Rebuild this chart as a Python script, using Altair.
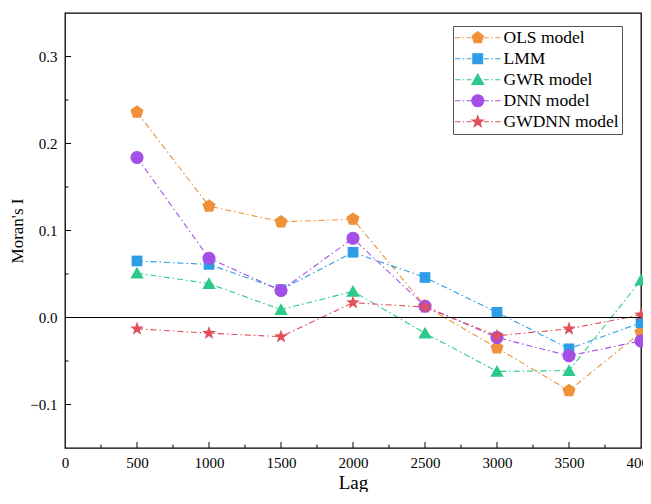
import altair as alt
import pandas as pd

# ---------------- data ----------------
lags = [500, 1000, 1500, 2000, 2500, 3000, 3500, 4000]
models = ["OLS model", "LMM", "GWR model", "DNN model", "GWDNN model"]
ols = [0.236, 0.128, 0.110, 0.113, 0.013, -0.035, -0.084, -0.017]
lmm = [0.065, 0.061, 0.032, 0.075, 0.046, 0.006, -0.036, -0.006]
gwr = [0.051, 0.039, 0.009, 0.030, -0.018, -0.062, -0.061, 0.043]
dnn = [0.184, 0.068, 0.031, 0.091, 0.013, -0.023, -0.044, -0.027]
gwdnn = [-0.013, -0.018, -0.022, 0.017, 0.012, -0.021, -0.013, 0.003]
series = [ols, lmm, gwr, dnn, gwdnn]

x_ticks = [0, 500, 1000, 1500, 2000, 2500, 3000, 3500, 4000]
x_major = [500, 1000, 1500, 2000, 2500, 3000, 3500]
x_minor = [250, 750, 1250, 1750, 2250, 2750, 3250, 3750]
y_ticks = [-0.1, 0.0, 0.1, 0.2, 0.3]
y_minor = [-0.05, 0.05, 0.15, 0.25]

# ---------------- styles ----------------
colors = ["#F0913A", "#2E9DE8", "#2CC98B", "#A44FE8", "#E0505A"]
pentagon = "M0,-1L0.951,-0.309L0.588,0.809L-0.588,0.809L-0.951,-0.309Z"
square = "M-0.82,-0.82H0.82V0.82H-0.82Z"
triangle = "M0,-0.95L1,0.8L-1,0.8Z"
circle = "M1,0A1,1,0,1,1,-1,0A1,1,0,1,1,1,0Z"
star = ("M0,-1L0.235,-0.324L0.951,-0.309L0.380,0.124L0.588,0.809L0,0.4"
        "L-0.588,0.809L-0.380,0.124L-0.951,-0.309L-0.235,-0.324Z")
shapes = [pentagon, square, triangle, circle, star]
sizes = [190, 170, 180, 170, 210]
dash_seg = ("M-3.8,0H-2.9M-2.5,0H-2.25M-1.85,0H-1.05"
            "M1.05,0H1.85M2.25,0H2.5M2.9,0H3.8")
legend_shapes = [dash_seg + s for s in shapes]

FONT = "Liberation Serif"
W, H = 576, 435

xs = alt.Scale(domain=[0, 4000], nice=False, zero=False)
ys = alt.Scale(domain=[-0.15, 0.35], nice=False, zero=False)

x_axis = alt.Axis(values=x_ticks, format="d", title="Lag", grid=False, domain=False, ticks=False,
                  labelFont=FONT, labelFontSize=15, labelColor="black", labelPadding=7,
                  labelFlush=False, labelOverlap=False,
                  titleFont=FONT, titleFontSize=19, titleFontWeight="normal",
                  titleColor="black", titlePadding=3)
y_axis = alt.Axis(values=y_ticks, format=".1f", title="Moran's I", grid=False,
                  domain=False, ticks=False,
                  labelFont=FONT, labelFontSize=15, labelColor="black", labelPadding=8,
                  labelFlush=False,
                  titleFont=FONT, titleFontSize=17, titleFontWeight="normal",
                  titleColor="black", titlePadding=3)


def X(field):
    return alt.X(field, scale=xs, axis=x_axis)


def Y(field):
    return alt.Y(field, scale=ys, axis=y_axis)


layers = []

# data series
for name, vals, col, shp, sz in zip(models, series, colors, shapes, sizes):
    df = pd.DataFrame({"lag": lags, "value": vals, "model": name})
    base = alt.Chart(df)
    layers.append(base.mark_line(color=col, strokeWidth=1.1,
                                 strokeDash=[6, 3, 1.5, 3]).encode(x=X("lag:Q"), y=Y("value:Q")))
    layers.append(base.mark_point(filled=True, shape=shp, size=sz, color=col,
                                  opacity=1, strokeWidth=0).encode(x=X("lag:Q"), y=Y("value:Q")))

# zero line
zero_df = pd.DataFrame({"zero": [0.0]})
layers.append(alt.Chart(zero_df).mark_rule(color="black", strokeWidth=1.2).encode(
    y=Y("zero:Q")))

# inward ticks
layers.append(alt.Chart(pd.DataFrame({"v": x_major})).mark_rule(color="black", strokeWidth=1).encode(
    x=X("v:Q"), y=alt.value(H), y2=alt.value(H - 6)))
layers.append(alt.Chart(pd.DataFrame({"v": x_minor})).mark_rule(color="black", strokeWidth=1).encode(
    x=X("v:Q"), y=alt.value(H), y2=alt.value(H - 3.5)))
layers.append(alt.Chart(pd.DataFrame({"v": y_ticks})).mark_rule(color="black", strokeWidth=1).encode(
    y=Y("v:Q"), x=alt.value(0), x2=alt.value(6)))
layers.append(alt.Chart(pd.DataFrame({"v": y_minor})).mark_rule(color="black", strokeWidth=1).encode(
    y=Y("v:Q"), x=alt.value(0), x2=alt.value(3.5)))

# legend (explicit domain, no drawn marks)
leg = alt.Legend(title=None, orient="none", legendX=388, legendY=13,
                 labelFont=FONT, labelFontSize=17.5, labelColor="black",
                 strokeColor="#555555", fillColor="white", padding=3,
                 rowPadding=2, symbolOffset=13, labelOffset=17,
                 symbolSize=144, symbolStrokeWidth=1.1)
leg_df = pd.DataFrame({"model": models, "lag": [0] * 5, "value": [0.0] * 5})
layers.append(alt.Chart(leg_df).transform_filter("false").mark_point(
    filled=True, size=144, opacity=1, strokeWidth=1.1).encode(
    x=X("lag:Q"),
    y=Y("value:Q"),
    shape=alt.Shape("model:N", scale=alt.Scale(domain=models, range=legend_shapes), legend=leg),
    fill=alt.Fill("model:N", scale=alt.Scale(domain=models, range=colors), legend=leg),
    stroke=alt.Stroke("model:N", scale=alt.Scale(domain=models, range=colors), legend=leg),
))

chart = alt.layer(*layers).properties(
    width=W, height=H,
    autosize=alt.AutoSizeParams(type="none"),
    padding={"left": 57, "top": 5, "right": 2, "bottom": 44},
    background="white",
).configure_view(stroke="black", strokeWidth=1.3)

chart.save("out.html", embed_options={"renderer": "svg", "actions": False})
